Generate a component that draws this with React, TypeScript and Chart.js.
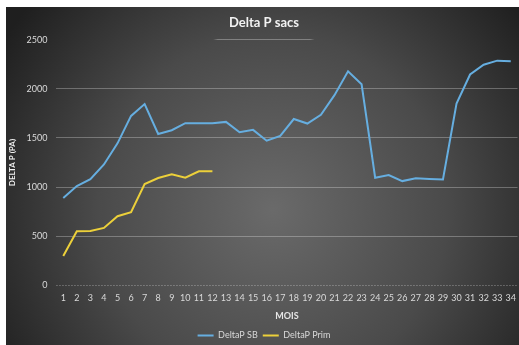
import React, { useEffect, useRef } from "react";
import { Chart, registerables } from "chart.js";

Chart.register(...registerables);

const months = Array.from({ length: 34 }, (_, i) => String(i + 1));
const deltaPSB = [890, 1010, 1080, 1230, 1445, 1724, 1844, 1540, 1578, 1650, 1650, 1650, 1663, 1558, 1582, 1472, 1520, 1692, 1646, 1736, 1935, 2177, 2045, 1095, 1122, 1061, 1090, 1083, 1078, 1850, 2145, 2245, 2286, 2279];
const deltaPPrim = [298, 551, 553, 585, 704, 745, 1030, 1092, 1129, 1095, 1161, 1160];
const yTicks = [0, 500, 1000, 1500, 2000, 2500];

const FONT = "Lato, 'Open Sans', sans-serif";

const bgPlugin = {
  id: "bgPlugin",
  beforeDraw(chart: any) {
    const { ctx, height } = chart;
    const width = 513;
    ctx.save();
    const g = ctx.createRadialGradient(width * 0.52, height * 0.6, 0, width * 0.52, height * 0.6, width * 0.62);
    g.addColorStop(0, "#6a6a6a");
    g.addColorStop(0.55, "#4a4a4a");
    g.addColorStop(1, "#1f1f1f");
    ctx.fillStyle = g;
    ctx.fillRect(0, 0, chart.width, height);
    ctx.restore();
  },
};

const zeroLine = {
  id: "zeroLine",
  beforeDatasetsDraw(chart: any) {
    const { ctx, chartArea, scales } = chart;
    const y = Math.round(scales.y.getPixelForValue(0)) + 0.5;
    ctx.save();
    ctx.strokeStyle = "rgba(255,255,255,0.45)";
    ctx.setLineDash([1, 2]);
    ctx.lineWidth = 1;
    ctx.beginPath();
    ctx.moveTo(chartArea.left, y);
    ctx.lineTo(chartArea.right, y);
    ctx.stroke();
    ctx.restore();
  },
};

export default function App() {
  const ref = useRef<HTMLCanvasElement | null>(null);
  useEffect(() => {
    if (!ref.current) return;
    const chart = new Chart(ref.current, {
      type: "line",
      data: {
        labels: months,
        datasets: [
          {
            label: "DeltaP SB",
            data: deltaPSB,
            borderColor: "#66aee0",
            backgroundColor: "#66aee0",
            borderWidth: 2,
            pointRadius: 0,
            tension: 0,
          },
          {
            label: "DeltaP Prim",
            data: deltaPPrim,
            borderColor: "#ecd03a",
            backgroundColor: "#ecd03a",
            borderWidth: 2,
            pointRadius: 0,
            tension: 0,
          },
        ],
      },
      options: {
        animation: false,
        responsive: false,
        maintainAspectRatio: false,
        layout: { padding: { left: 0, right: 1, top: 0, bottom: -5 } },
        plugins: {
          title: {
            display: true,
            text: "Delta P sacs",
            color: "#f2f2f2",
            font: { family: FONT, size: 13, weight: "bold" },
            padding: { top: 8, bottom: 9 },
          },
          legend: {
            position: "bottom",
            labels: {
              color: "#d9d9d9",
              font: { family: FONT, size: 9 },
              usePointStyle: true,
              pointStyle: "line",
              pointStyleWidth: 16,
              padding: 5,
            },
          },
          tooltip: { enabled: false },
        },
        scales: {
          x: {
            offset: true,
            grid: { display: false, drawTicks: false },
            border: { display: false },
            ticks: {
              color: "#d9d9d9",
              font: { family: FONT, size: 9 },
              maxRotation: 0,
              autoSkip: false,
              padding: 7,
            },
            title: {
              display: true,
              text: "MOIS",
              color: "#e6e6e6",
              font: { family: FONT, size: 9, weight: "bold" },
              padding: { top: 0, bottom: 5 },
            },
          },
          y: {
            min: 0,
            max: 2500,
            afterBuildTicks: (axis: any) => {
              axis.ticks = yTicks.map((v) => ({ value: v }));
            },
            grid: {
              drawTicks: false,
              lineWidth: 1,
              color: (c: any) => {
                if (c.tick && c.tick.value === 2500) {
                  const ch = c.chart;
                  const ca = ch.chartArea;
                  if (!ca) return "rgba(255,255,255,0.2)";
                  const g = ch.ctx.createLinearGradient(ca.left, 0, ca.right, 0);
                  g.addColorStop(0, "rgba(255,255,255,0)");
                  g.addColorStop(0.34, "rgba(255,255,255,0)");
                  g.addColorStop(0.35, "rgba(255,255,255,0.3)");
                  g.addColorStop(0.55, "rgba(255,255,255,0.3)");
                  g.addColorStop(0.56, "rgba(255,255,255,0)");
                  g.addColorStop(1, "rgba(255,255,255,0)");
                  return g;
                }
                if (c.tick && c.tick.value === 0) return "rgba(0,0,0,0)";
                return "rgba(255,255,255,0.28)";
              },
            },
            border: { display: false },
            ticks: {
              color: "#d9d9d9",
              font: { family: FONT, size: 9 },
              padding: 9,
              callback: (v: any) => String(v),
            },
            title: {
              display: true,
              text: "DELTA P (PA)",
              color: "#f2f2f2",
              font: { family: FONT, size: 8, weight: "bold" },
              padding: { top: 2, bottom: 0 },
            },
          },
        },
      },
      plugins: [bgPlugin, zeroLine],
    } as any);
    return () => chart.destroy();
  }, []);
  return (
    <div style={{ position: "fixed", left: 6, top: 7, width: 517, height: 338, overflow: "hidden" }}>
      <canvas ref={ref} width={517} height={338} style={{ display: "block", width: 517, height: 338 }} />
    </div>
  );
}
